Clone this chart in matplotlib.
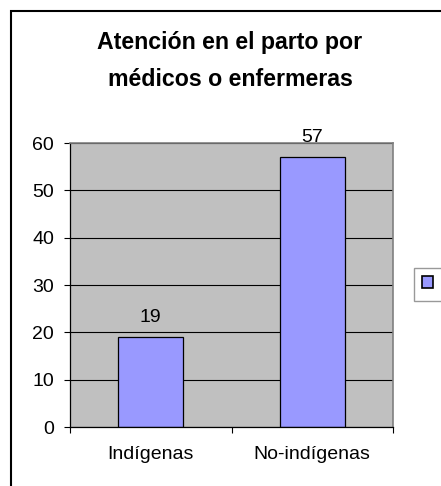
import numpy as np
import matplotlib
matplotlib.use("Agg")
import matplotlib.pyplot as plt
from matplotlib.patches import Rectangle, Patch

# datos
categorias = ["Indígenas", "No-indígenas"]
valores = [19, 57]
titulo = "Atención en el parto por\nmédicos o enfermeras"

plt.rcParams['font.family'] = ['Liberation Sans', 'DejaVu Sans']

fig = plt.figure(figsize=(4.41, 4.86), dpi=100)
fig.patch.set_facecolor("white")

# marco del grafico (solo se ve izquierda y arriba)
W, H = 441, 486
fig.patches.append(Rectangle((11 / W, -0.2), 1.5, 1 - 11 / H + 0.2, transform=fig.transFigure,
                             fill=False, edgecolor="black", linewidth=1.5, zorder=0))

ax = fig.add_axes([70 / W, 1 - 427 / H, (393 - 70) / W, (427 - 143) / H])
ax.set_facecolor("#C0C0C0")

x = np.arange(len(categorias))
barras = ax.bar(x, valores, width=0.4, color="#9999FF", edgecolor="black", linewidth=0.9, zorder=3)

for b, v in zip(barras, valores):
    ax.annotate(str(v), (b.get_x() + b.get_width() / 2, v), xytext=(0, 8),
                textcoords="offset points", ha="center", va="bottom", fontsize=14)

ax.set_ylim(0, 60)
ax.set_xlim(-0.5, 1.5)
ax.set_yticks(np.arange(0, 61, 10))
ax.yaxis.grid(True, color="black", linewidth=0.8)
ax.set_axisbelow(True)

ax.set_xticks(x)
ax.set_xticklabels(categorias)
ax.set_xticks([-0.5, 0.5, 1.5], minor=True)
ax.tick_params(axis="x", which="major", length=0, pad=14, labelsize=14)
ax.tick_params(axis="x", which="minor", length=4, width=0.8, direction="out")
ax.tick_params(axis="y", length=4.5, width=0.8, pad=7, labelsize=14)

for s in ["top", "right"]:
    ax.spines[s].set_color("#808080")
    ax.spines[s].set_linewidth(1.2)
for s in ["left", "bottom"]:
    ax.spines[s].set_color("black")
    ax.spines[s].set_linewidth(0.9)
ax.spines["bottom"].set_zorder(4)

fig.text(230 / W, 1 - 61 / H, titulo, ha="center", va="center", fontsize=16.7,
         fontweight="bold", linespacing=1.76)

# leyenda sin texto
h = Patch(facecolor="#9999FF", edgecolor="black", linewidth=1.2)
leg = fig.legend(handles=[h], labels=[""], loc="upper left",
                 bbox_to_anchor=(414 / W, 1 - 268 / H), borderaxespad=0, fontsize=14,
                 handlelength=0.6, handleheight=0.6, handletextpad=0.3,
                 borderpad=0.4, fancybox=False, frameon=True)
leg.get_frame().set_edgecolor("#808080")
leg.get_frame().set_linewidth(1.0)

fig.savefig("out.png", dpi=100)
